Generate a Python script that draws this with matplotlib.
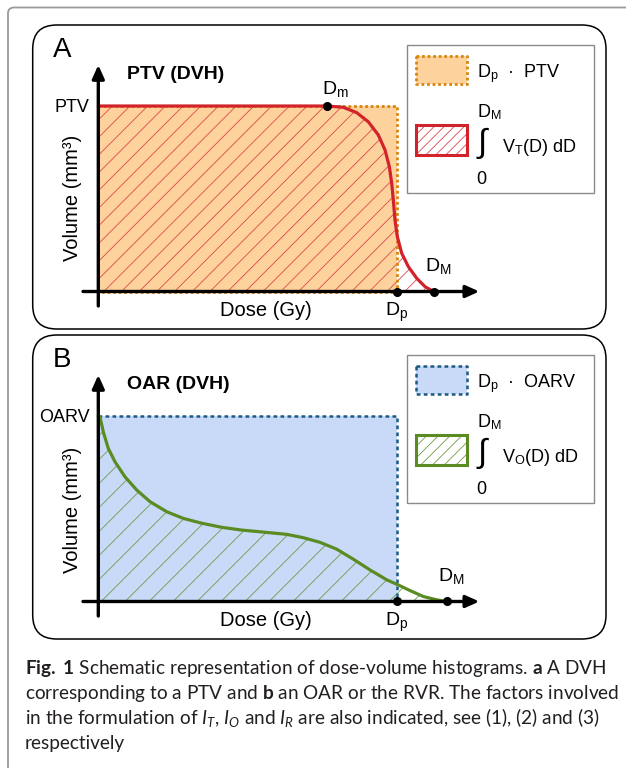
import numpy as np
import matplotlib
matplotlib.use('Agg')
import matplotlib.pyplot as plt
from matplotlib.patches import Rectangle, FancyBboxPatch, Polygon
from matplotlib.collections import LineCollection

W, H = 626, 768

plt.rcParams['font.family'] = ['Liberation Sans', 'DejaVu Sans']
plt.rcParams['mathtext.fontset'] = 'custom'
plt.rcParams['mathtext.rm'] = 'Liberation Sans'
plt.rcParams['mathtext.it'] = 'Lato:italic'
plt.rcParams['mathtext.bf'] = 'Lato:bold'

# panel A - PTV dose-volume histogram (dose in Gy, volume in % of PTV)
ptv_dose = [0, 46.05, 49.27, 51.96, 54.29, 56.30, 57.65, 58.52, 59.00, 59.32,
            59.66, 60.13, 61.01, 62.34, 64.03, 65.70, 67.40]
ptv_vol = [100, 100, 99.3, 96.4, 91.5, 84.4, 76.3, 67.3, 58.3, 49.3,
           38.5, 29.5, 20.6, 13.4, 7.1, 2.6, 0]
ptv_level = 100
ptv_dm = 46.05
ptv_dp = 60.0
ptv_dM = 67.40

# panel B - OAR dose-volume histogram
oar_dose = [0, 0.34, 1.01, 2.01, 3.36, 5.37, 7.72, 10.40, 13.75, 17.09, 20.79,
            24.81, 28.84, 32.86, 37.88, 41.22, 44.58, 47.94, 51.28, 54.64,
            57.99, 60.33, 62.68, 65.35, 68.05, 70.06]
oar_vol = [100, 99.5, 91.4, 82.5, 75.3, 67.2, 60.1, 53.8, 48.4, 44.8, 42.2,
           40.0, 38.5, 37.5, 36.2, 34.4, 31.9, 28.2, 22.8, 17.0,
           11.7, 8.9, 5.9, 2.7, 0.9, 0]
oar_level = 100
oar_dp = 60.0
oar_dM = 70.06

caption_lines = [
    r'$\mathbf{Fig.}$ $\mathbf{1}$ Schematic representation of dose-volume histograms. $\mathbf{a}$ A DVH',
    r'corresponding to a PTV and $\mathbf{b}$ an OAR or the RVR. The factors involved',
    r'in the formulation of $I_T$, $I_O$ and $I_R$ are also indicated, see (1), (2) and (3)',
    'respectively',
]

fig = plt.figure(figsize=(W / 100, H / 100), dpi=100)
bg = fig.add_axes([0, 0, 1, 1])
bg.set_xlim(0, W)
bg.set_ylim(H, 0)
bg.axis('off')

# outer grey frame of the figure box
bg.add_patch(FancyBboxPatch((8, 7.5), 800, 900, boxstyle='round,pad=0,rounding_size=6',
                            fc='none', ec='#9a9a9a', lw=1.3, clip_on=False))


def hatch_lines(ax, clip, x0, x1, y0, y1, spacing, k, color, lw, z=2):
    # 45 degree lines in pixel space, k = change of x per unit of y
    starts = np.arange(x0 - abs(k * (y1 - y0)) - spacing, x1 + abs(k * (y1 - y0)) + spacing,
                       spacing)
    segs = [[(c, y0), (c + k * (y1 - y0), y1)] for c in starts]
    lc = LineCollection(segs, colors=color, linewidths=lw, zorder=z)
    ax.add_collection(lc)
    lc.set_clip_path(clip)


def draw_panel(top, letter, title, level_lbl, dose, vol, level, dp, dM, dm,
               fill, edge, edge_dash, curve_col, hatch_col, hatch_px, leg_hatch_px,
               leg_text, int_text, ylab_dy):
    # rounded panel frame
    bg.add_patch(FancyBboxPatch((32.7, top), 573.3, 304, boxstyle='round,pad=0,rounding_size=24',
                                fc='none', ec='black', lw=1.1))
    bg.text(52.7, top + 31.7, letter, fontsize=20, va='baseline', ha='left')
    bg.text(126.7, top + 54.3, title, fontsize=14, fontweight='bold', va='baseline', ha='left')
    bg.text(89.8, top + 86.5, level_lbl, fontsize=13, va='baseline', ha='right')
    bg.text(72, top + 174 + ylab_dy, 'Volume (mm³)', fontsize=14.5, rotation=90,
            va='center', ha='center')
    bg.text(265.5, top + 291, 'Dose (Gy)', fontsize=14.5, va='baseline', ha='center')

    # data axes: dose 0 at x=98.3 px, volume 0 at top+266.5 px
    ox, oy = 98.3, top + 266.5
    sx = (396.7 - ox) / dp
    sy = (266.5 - 81) / level
    xlim = (-6, 80)
    ylim = (-10, 126)
    left = ox + xlim[0] * sx
    right = ox + xlim[1] * sx
    ytop = oy - ylim[1] * sy
    ybot = oy - ylim[0] * sy
    ax = fig.add_axes([left / W, 1 - ybot / H, (right - left) / W, (ybot - ytop) / H])
    ax.set_xlim(xlim)
    ax.set_ylim(ylim)
    ax.axis('off')

    ax.add_patch(Rectangle((0, 0), dp, level, fc=fill, ec='none', zorder=1))
    poly = Polygon(np.column_stack([dose + [0], vol + [0]]), closed=True,
                   fc='none', ec='none')
    ax.add_patch(poly)
    hatch_lines(ax, poly, 0, max(dose), -2, level + 2, hatch_px / sx, sy / sx,
                hatch_col, 0.6)
    ax.plot([0, dp, dp, 0], [level, level, 0, 0], color=edge, lw=edge_dash[0],
            ls=(0, edge_dash[1:]), zorder=3, solid_capstyle='butt')
    ax.plot(dose, vol, color=curve_col, lw=2.3, zorder=4, solid_joinstyle='round',
            solid_capstyle='round')

    x_a = (83 - ox) / sx
    x_b = (479.3 - ox) / sx
    y_a = -(281 - 266.5) / sy
    y_b = (266.5 - 40) / sy
    arrow = dict(arrowstyle='-|>,head_length=0.8,head_width=0.36', lw=2.4, color='black',
                 shrinkA=0, shrinkB=0)
    ax.annotate('', xy=(x_b, 0), xytext=(x_a, 0), arrowprops=arrow, zorder=5,
                annotation_clip=False)
    ax.annotate('', xy=(0, y_b), xytext=(0, y_a), arrowprops=arrow, zorder=5,
                annotation_clip=False)

    pts_x = [dp, dM]
    pts_y = [0, 0]
    if dm is not None:
        pts_x.append(dm)
        pts_y.append(level)
        ax.annotate(r'D$_\mathrm{m}$', xy=(dm, level), xytext=(-5.3, 11.7),
                    textcoords='offset pixels', fontsize=14, va='baseline', ha='left')
    ax.plot(pts_x, pts_y, 'o', color='black', ms=5.5, zorder=6, clip_on=False)
    ax.annotate(r'D$_\mathrm{p}$', xy=(dp, 0), xytext=(-11.7, -24.5),
                textcoords='offset pixels', fontsize=14, va='baseline', ha='left')
    ax.annotate(r'D$_\mathrm{M}$', xy=(dM, 0), xytext=(-8.5, 20.5),
                textcoords='offset pixels', fontsize=14, va='baseline', ha='left')

    # legend box
    bg.add_patch(Rectangle((407.3, top + 19.5), 187, 148.8, fc='white', ec='#8a8a8a', lw=1.0,
                           zorder=1))
    bg.add_patch(Rectangle((415.7, top + 30.5), 51, 28.5, fc=fill, ec='none', zorder=2))
    bg.plot([415.7, 466.7, 466.7, 415.7, 415.7],
            [top + 30.5, top + 30.5, top + 59, top + 59, top + 30.5],
            color=edge, lw=edge_dash[0], ls=(0, edge_dash[1:]), solid_capstyle='butt',
            zorder=3)
    leg2 = Rectangle((415.7, top + 100), 51, 30, fc='white', ec='none', zorder=2)
    bg.add_patch(leg2)
    hatch_lines(bg, leg2, 415.7, 466.7, top + 130, top + 100, leg_hatch_px, -1.0,
                hatch_col, 0.6, z=3)
    bg.add_patch(Rectangle((415.7, top + 100), 51, 30, fc='none', ec=curve_col, lw=2.2,
                           zorder=4))
    bg.text(477, top + 52.3, leg_text, fontsize=13, va='baseline', ha='left')
    bg.text(477, top + 92.3, r'D$_\mathrm{M}$', fontsize=13, va='baseline', ha='left')
    bg.text(477.5, top + 118.3, '∫', fontsize=24, va='center', ha='left')
    bg.text(501.7, top + 126.7, int_text, fontsize=13, va='baseline', ha='left')
    bg.text(476.7, top + 159, '0', fontsize=13, va='baseline', ha='left')


draw_panel(25, 'A', 'PTV (DVH)', 'PTV', ptv_dose, ptv_vol, ptv_level, ptv_dp, ptv_dM, ptv_dm,
           '#fdd29c', '#d5860f', (2.0, 1.0, 1.0), '#d2232a', '#e0474c', 17.7, 10,
           r'D$_\mathrm{p}$  ·  PTV', r'V$_\mathrm{T}$(D) dD', -1)
draw_panel(335, 'B', 'OAR (DVH)', 'OARV', oar_dose, oar_vol, oar_level, oar_dp, oar_dM, None,
           '#c9daf8', '#1b5a83', (1.8, 1.5, 1.3), '#5b8c24', '#6f9b46', 24, 11.7,
           r'D$_\mathrm{p}$  ·  OARV', r'V$_\mathrm{O}$(D) dD', 1)

# caption
renderer = fig.canvas.get_renderer()
cap_base = [674, 699, 724, 748.5]
cap = []
for i, line in enumerate(caption_lines):
    cap.append(bg.text(25, cap_base[i], line, fontsize=13, family=['Lato', 'DejaVu Sans'],
                       va='baseline', ha='left', color='#231f20'))
w = cap[1].get_window_extent(renderer).width
for t in cap:
    t.set_fontsize(13 * 594 / w)

fig.savefig('out.png', dpi=100)
